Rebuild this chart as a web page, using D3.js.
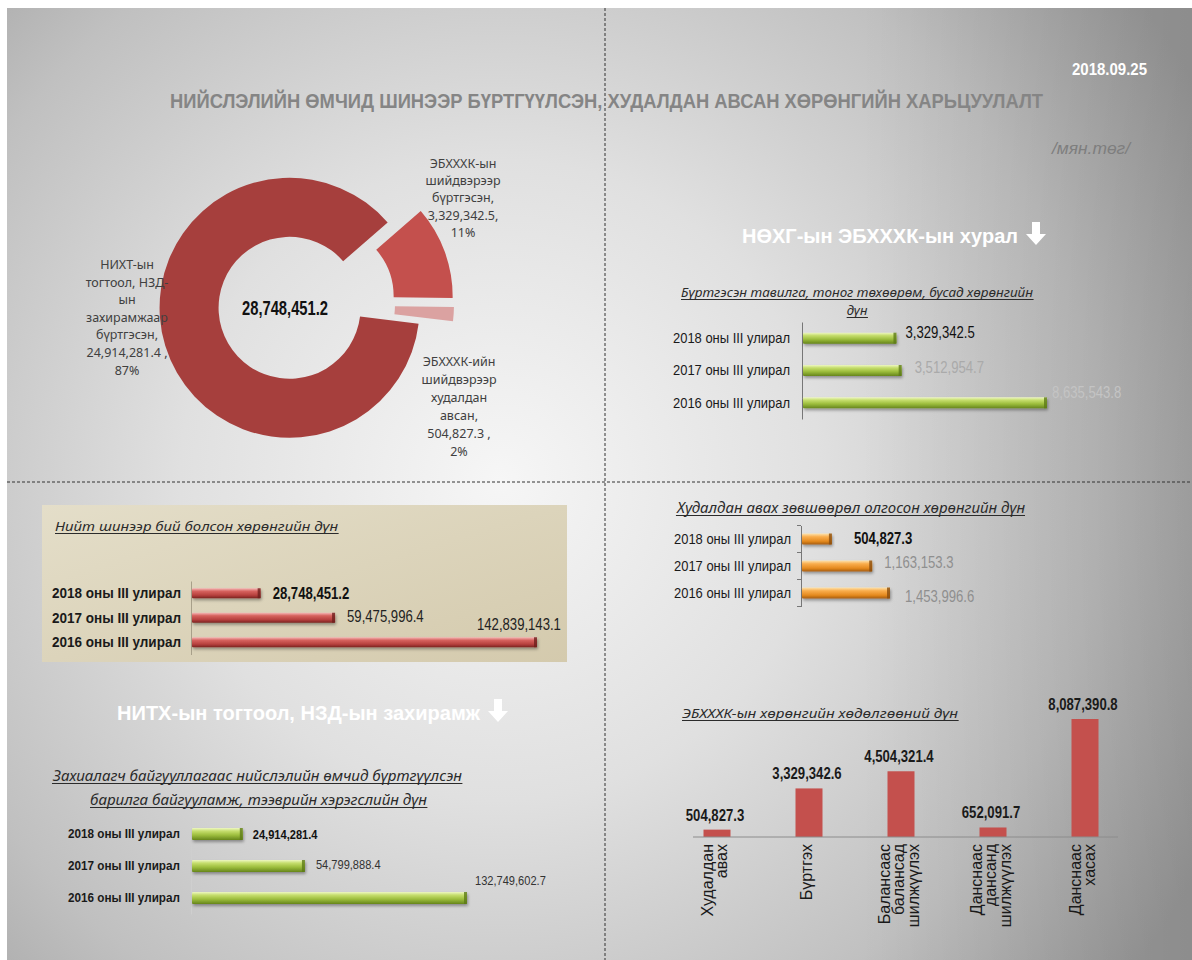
<!DOCTYPE html>
<html>
<head>
<meta charset="utf-8">
<script src="https://cdn.jsdelivr.net/npm/d3@7"></script>
<style>
html, body { margin: 0; padding: 0; background: #fff; }
svg { display: block; }
</style>
</head>
<body>
<svg id="chart" width="1192" height="960"></svg>
<script>
// ---- data ----
const periods = ['2018 оны III улирал', '2017 оны III улирал', '2016 оны III улирал']
const registeredValues = [3329342.5, 3512954.7, 8635543.8]
const totalValues = [28748451.2, 59475996.4, 142839143.1]
const purchaseValues = [504827.3, 1163153.3, 1453996.6]
const cityValues = [24914281.4, 54799888.4, 132749602.7]

const shareNames = [
  ['НИХТ-ын', 'тогтоол, НЗД-', 'ын', 'захирамжаар', 'бүртгэсэн,'],
  ['ЭБХХХК-ын', 'шийдвэрээр', 'бүртгэсэн,'],
  ['ЭБХХХК-ийн', 'шийдвэрээр', 'худалдан', 'авсан,']
]
const shareValues = [24914281.4, 3329342.5, 504827.3]
const sharePercents = [87, 11, 2]

const moveCats = [
  ['Худалдан', 'авах'],
  ['Бүртгэх'],
  ['Балансаас', 'балансад', 'шилжүүлэх'],
  ['Данснаас', 'дансанд', 'шилжүүлэх'],
  ['Данснаас', 'хасах']
]
const moveValues = [504827.3, 3329342.6, 4504321.4, 652091.7, 8087390.8]

// ---- setup ----
const SANS = '"Liberation Sans", Arial, sans-serif'
const SOFT = '"Noto Sans", "Open Sans", sans-serif'
const fmt = d3.format(',.1f')

// arial narrow look: squeeze liberation sans horizontally
function squeeze (sel, f) {
  sel.each(function () {
    const w = this.getComputedTextLength()
    d3.select(this).attr('textLength', w * f).attr('lengthAdjust', 'spacingAndGlyphs')
  })
}

const svg = d3.select('#chart')
const defs = svg.append('defs')

const bg = defs.append('radialGradient').attr('id', 'bg')
  .attr('gradientUnits', 'userSpaceOnUse').attr('cx', 500).attr('cy', 480).attr('r', 800)
bg.append('stop').attr('offset', 0).attr('stop-color', '#f6f6f6')
bg.append('stop').attr('offset', 0.4).attr('stop-color', '#e0e0e0')
bg.append('stop').attr('offset', 0.75).attr('stop-color', '#c0c0c0')
bg.append('stop').attr('offset', 1).attr('stop-color', '#a0a0a0')

const edge = defs.append('linearGradient').attr('id', 'edge')
  .attr('x1', 0).attr('y1', 0).attr('x2', 1).attr('y2', 0)
edge.append('stop').attr('offset', 0).attr('stop-color', '#000').attr('stop-opacity', 0)
edge.append('stop').attr('offset', 1).attr('stop-color', '#000').attr('stop-opacity', 0.12)

function vGrad (id, stops) {
  const gr = defs.append('linearGradient').attr('id', id)
    .attr('x1', 0).attr('y1', 0).attr('x2', 0).attr('y2', 1)
  stops.forEach(s => gr.append('stop').attr('offset', s[0]).attr('stop-color', s[1]))
}
vGrad('green', [[0, '#eef7c4'], [0.25, '#c6de6e'], [0.6, '#9cbd3c'], [1, '#66851c']])
vGrad('red', [[0, '#f5b8b6'], [0.3, '#d6625e'], [0.7, '#b6403d'], [1, '#7a2321']])
vGrad('orange', [[0, '#fde4b0'], [0.3, '#f9ad4c'], [0.7, '#e58a1e'], [1, '#a55c10']])

const box = defs.append('linearGradient').attr('id', 'box')
  .attr('x1', 0).attr('y1', 0).attr('x2', 1).attr('y2', 1)
box.append('stop').attr('offset', 0).attr('stop-color', '#e4dec9')
box.append('stop').attr('offset', 1).attr('stop-color', '#d4caad')

const sh = defs.append('filter').attr('id', 'shadow')
  .attr('x', '-5%').attr('y', '-40%').attr('width', '115%').attr('height', '220%')
sh.append('feDropShadow').attr('dx', 1).attr('dy', 2).attr('stdDeviation', 1.5)
  .attr('flood-color', '#000').attr('flood-opacity', 0.35)

// background slide
svg.append('rect').attr('x', 7).attr('y', 8).attr('width', 1185).attr('height', 952)
  .attr('fill', 'url(#bg)')
svg.append('rect').attr('x', 860).attr('y', 8).attr('width', 332).attr('height', 952)
  .attr('fill', 'url(#edge)')

// dashed quadrant guides
svg.append('line').attr('x1', 605).attr('x2', 605).attr('y1', 8).attr('y2', 960)
  .attr('stroke', '#333').attr('stroke-dasharray', '3,2').attr('stroke-width', 1)
svg.append('line').attr('x1', 7).attr('x2', 1192).attr('y1', 482).attr('y2', 482)
  .attr('stroke', '#333').attr('stroke-dasharray', '3,2').attr('stroke-width', 1)

// titles
svg.append('text').attr('x', 170).attr('y', 108)
  .attr('textLength', 873).attr('lengthAdjust', 'spacingAndGlyphs')
  .style('font-family', SANS).style('font-weight', 'bold').style('font-size', '20px')
  .attr('fill', '#858585')
  .text('НИЙСЛЭЛИЙН ӨМЧИД ШИНЭЭР БҮРТГҮҮЛСЭН, ХУДАЛДАН АВСАН ХӨРӨНГИЙН ХАРЬЦУУЛАЛТ')

svg.append('text').attr('x', 1072).attr('y', 75)
  .attr('textLength', 75).attr('lengthAdjust', 'spacingAndGlyphs')
  .style('font-family', SANS).style('font-weight', 'bold').style('font-size', '17px')
  .attr('fill', '#fff').text('2018.09.25')

svg.append('text').attr('x', 1052).attr('y', 154)
  .attr('textLength', 78).attr('lengthAdjust', 'spacingAndGlyphs')
  .style('font-family', SANS).style('font-style', 'italic').style('font-size', '17px')
  .attr('fill', '#7e7e7e').text('/мян.төг/')

function heading (text, x, y, width) {
  svg.append('text').attr('x', x).attr('y', y)
    .attr('textLength', width).attr('lengthAdjust', 'spacingAndGlyphs')
    .style('font-family', SANS).style('font-weight', 'bold').style('font-size', '20px')
    .attr('fill', '#fff').text(text)
  // down arrow
  const ax = x + width + 18
  const ay = y - 21
  svg.append('path')
    .attr('d', `M${ax - 4},${ay} h8 v12 h6 l-10,11 l-10,-11 h6 z`)
    .attr('fill', '#fff')
}
heading('НӨХГ-ын ЭБХХХК-ын хурал', 742, 243, 276)
heading('НИТХ-ын тогтоол, НЗД-ын захирамж', 117, 720, 363)

function subtitle (text, x, y, width, size, anchor) {
  const t = svg.append('text').attr('x', x).attr('y', y)
    .attr('text-anchor', anchor || 'start')
    .style('font-family', SOFT).style('font-style', 'italic').style('font-size', size + 'px')
    .attr('fill', '#2b2b2b').text(text)
  if (width) t.attr('textLength', width).attr('lengthAdjust', 'spacingAndGlyphs')
  const b = t.node().getBBox()
  svg.append('line').attr('x1', b.x).attr('x2', b.x + b.width)
    .attr('y1', y + 2.5).attr('y2', y + 2.5).attr('stroke', '#2b2b2b').attr('stroke-width', 1)
}

// ---- donut ----
const cx = 302
const cy = 304
const pie = d3.pie().sort(null)
  .startAngle(97 * Math.PI / 180).endAngle(97 * Math.PI / 180 + 2 * Math.PI)
const arc = d3.arc().innerRadius(71).outerRadius(130)
const explode = [13, 22, 22]
const sliceColors = ['#a63f3d', '#c4504d', '#dba2a1']
const donut = svg.append('g').attr('transform', `translate(${cx},${cy})`)
donut.selectAll('path')
  .data(pie(shareValues))
  .join('path')
  .attr('d', arc)
  .attr('fill', (d, i) => sliceColors[i])
  .attr('transform', (d, i) => {
    const a = (d.startAngle + d.endAngle) / 2
    return `translate(${Math.sin(a) * explode[i]},${-Math.cos(a) * explode[i]})`
  })

svg.append('text').attr('x', 285).attr('y', 315).attr('text-anchor', 'middle')
  .attr('textLength', 86).attr('lengthAdjust', 'spacingAndGlyphs')
  .style('font-family', SANS).style('font-weight', 'bold').style('font-size', '20px')
  .attr('fill', '#111').text(fmt(d3.sum(shareValues)))

const shareSuffix = [' ,', ',', ' ,']
const labelSpots = [[127, 269, 17.6], [463, 168, 17.2], [459, 366, 18]]
shareNames.forEach((lines, i) => {
  const all = lines.concat([fmt(shareValues[i]) + shareSuffix[i], sharePercents[i] + '%'])
  const t = svg.append('text')
    .attr('text-anchor', 'middle')
    .style('font-family', SOFT).style('font-size', '12.5px').attr('fill', '#404040')
  all.forEach((s, k) => {
    t.append('tspan').attr('x', labelSpots[i][0])
      .attr('y', labelSpots[i][1] + k * labelSpots[i][2]).text(s)
  })
})

// ---- horizontal bar charts ----
function hBars (cfg) {
  const g = svg.append('g')
  const x = d3.scaleLinear().domain([0, d3.max(cfg.values)]).range([cfg.x0, cfg.x1])
  const y = d3.scaleBand().domain(periods).range([cfg.y0, cfg.y1])
  const rows = periods.map((p, i) => ({ p, v: cfg.values[i], i }))

  const ax = g.append('g').attr('transform', `translate(${cfg.x0},0)`)
    .call(d3.axisLeft(y).tickSize(0).tickSizeOuter(0).tickPadding(cfg.pad))
  ax.select('.domain').attr('stroke', cfg.axisColor)
  ax.selectAll('text')
    .style('font-family', SANS).style('font-size', cfg.labelSize + 'px')
    .style('font-weight', cfg.labelWeight).attr('fill', '#1a1a1a')
    .attr('textLength', cfg.labelWidth).attr('lengthAdjust', 'spacingAndGlyphs')
  if (cfg.boundaryTicks) {
    const bounds = periods.map(p => y(p)).concat([cfg.y1])
    g.selectAll('line.bt').data(bounds).join('line')
      .attr('x1', cfg.x0 - 4).attr('x2', cfg.x0).attr('y1', d => d).attr('y2', d => d)
      .attr('stroke', cfg.axisColor)
  }

  const yc = d => y(d.p) + y.bandwidth() / 2
  g.selectAll('rect.bar').data(rows).join('rect')
    .attr('x', x(0) + 1).attr('y', d => yc(d) - cfg.barH / 2)
    .attr('width', d => x(d.v) - x(0) - 1).attr('height', cfg.barH)
    .attr('rx', 1)
    .attr('fill', `url(#${cfg.grad})`).attr('filter', 'url(#shadow)')
  g.selectAll('rect.cap').data(rows).join('rect')
    .attr('x', d => x(d.v) - 3).attr('y', d => yc(d) - cfg.barH / 2)
    .attr('width', 3).attr('height', cfg.barH)
    .attr('fill', cfg.cap).attr('opacity', 0.8)

  g.selectAll('text.val').data(rows).join('text')
    .attr('x', d => x(d.v) + cfg.vals[d.i].dx)
    .attr('y', d => yc(d) + cfg.vals[d.i].dy)
    .style('font-family', SANS).style('font-size', cfg.valSize + 'px')
    .style('font-weight', d => cfg.vals[d.i].bold ? 'bold' : 'normal')
    .attr('fill', d => cfg.vals[d.i].color)
    .text(d => fmt(d.v))
    .call(squeeze, 0.82)
}

// top right: registered assets
subtitle('Бүртгэсэн тавилга, тоног төхөөрөм, бусад хөрөнгийн', 681, 297, 352, 13)
subtitle('дүн', 857, 315, null, 13, 'middle')
hBars({
  values: registeredValues, x0: 802, x1: 1047, y0: 322, y1: 419, barH: 11,
  grad: 'green', cap: '#5d7a17', axisColor: '#777', pad: 12,
  labelSize: 15, labelWeight: 'normal', labelWidth: 117, valSize: 16,
  vals: [
    { dx: 9, dy: 0, color: '#111', bold: false },
    { dx: 13, dy: 2, color: '#aaaaaa', bold: false },
    { dx: 5, dy: -5, color: '#c4c4c4', bold: false }
  ]
})

// middle left: total new assets (beige box)
svg.append('rect').attr('x', 42).attr('y', 505).attr('width', 525).attr('height', 157)
  .attr('fill', 'url(#box)')
subtitle('Нийт шинээр бий болсон хөрөнгийн дүн', 55, 531, 283, 13)
hBars({
  values: totalValues, x0: 191, x1: 537, y0: 581, y1: 654.5, barH: 10,
  grad: 'red', cap: '#6e1f1d', axisColor: '#a8a08a', pad: 10,
  labelSize: 15, labelWeight: 'bold', labelWidth: 129, valSize: 16,
  vals: [
    { dx: 12, dy: 6, color: '#111', bold: true },
    { dx: 12, dy: 4, color: '#222', bold: false },
    { dx: -60, dy: -12, color: '#222', bold: false }
  ]
})

// middle right: purchase permits
subtitle('Худалдан авах зөвшөөрөл олгосон хөрөнгийн дүн', 677, 513, 348, 14)
hBars({
  values: purchaseValues, x0: 801, x1: 890, y0: 525.5, y1: 606.5, barH: 11,
  grad: 'orange', cap: '#8a4c0c', axisColor: '#777', pad: 10, boundaryTicks: true,
  labelSize: 15, labelWeight: 'normal', labelWidth: 117, valSize: 16,
  vals: [
    { dx: 22, dy: 5, color: '#111', bold: true },
    { dx: 12, dy: 2, color: '#8f8f8f', bold: false },
    { dx: 15, dy: 9, color: '#8f8f8f', bold: false }
  ]
})

// bottom left: city council decisions
subtitle('Захиалагч байгууллагаас нийслэлийн өмчид бүртгүүлсэн', 53, 781, 409, 15)
subtitle('барилга байгууламж, тээврийн хэрэгслийн дүн', 90, 805, 337, 15)
hBars({
  values: cityValues, x0: 191, x1: 467, y0: 818, y1: 914, barH: 12,
  grad: 'green', cap: '#5d7a17', axisColor: '#cfcfcf', pad: 11,
  labelSize: 13.5, labelWeight: 'bold', labelWidth: 112, valSize: 13.5,
  vals: [
    { dx: 10, dy: 5, color: '#111', bold: true },
    { dx: 11, dy: 3, color: '#333', bold: false },
    { dx: 8, dy: -13, color: '#333', bold: false }
  ]
})

// ---- bottom right: column chart ----
subtitle('ЭБХХХК-ын хөрөнгийн хөдөлгөөний дүн', 682, 718, 276, 13)
const colKeys = moveCats.map(c => c.join(' '))
const xCol = d3.scaleBand().domain(colKeys).range([671, 1131])
const yCol = d3.scaleLinear().domain([0, d3.max(moveValues)]).range([837, 719])
const colW = 27
const cols = colKeys.map((k, i) => ({ k, v: moveValues[i], lines: moveCats[i] }))
const colG = svg.append('g')
const colMid = d => xCol(d.k) + xCol.bandwidth() / 2
colG.selectAll('rect').data(cols).join('rect')
  .attr('x', d => colMid(d) - colW / 2).attr('y', d => yCol(d.v))
  .attr('width', colW).attr('height', d => yCol(0) - yCol(d.v))
  .attr('fill', '#c4504d')
colG.append('line').attr('x1', 693).attr('x2', 1118)
  .attr('y1', yCol(0)).attr('y2', yCol(0)).attr('stroke', '#8c8c8c')
colG.selectAll('text.v').data(cols).join('text')
  .attr('x', d => colMid(d) - 2).attr('y', d => yCol(d.v) - 9)
  .attr('text-anchor', 'middle')
  .style('font-family', SANS).style('font-weight', 'bold').style('font-size', '16px')
  .attr('fill', '#1a1a1a').text(d => fmt(d.v))
  .call(squeeze, 0.82)
const catLH = 14.5
colG.selectAll('g.cat').data(cols).join('g')
  .attr('transform', d => `translate(${colMid(d) - 2},844) rotate(-90)`)
  .each(function (d) {
    const t = d3.select(this).append('text').attr('text-anchor', 'end')
      .style('font-family', SANS).style('font-size', '16px').attr('fill', '#1a1a1a')
    d.lines.forEach((s, k) => {
      t.append('tspan').attr('x', 0)
        .attr('y', (k - (d.lines.length - 1) / 2) * catLH + 5).text(s)
    })
  })
</script>
</body>
</html>
